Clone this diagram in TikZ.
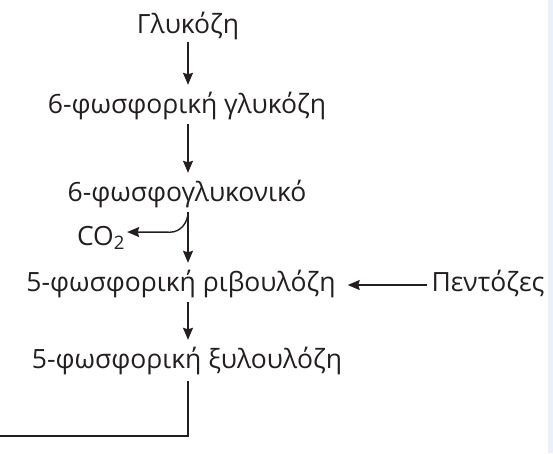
\documentclass[tikz,border=0pt]{standalone}
\usepackage{fontspec}
\setmainfont{Open Sans}
\usetikzlibrary{arrows.meta}
\definecolor{ink}{HTML}{231F20}
\definecolor{stripblue}{HTML}{EAF1F9}
\tikzset{
  x=1pt, y=-1pt,
  label/.style={inner sep=0pt, anchor=base, text height=19pt, text depth=7pt, font=\fontsize{26.5}{30}\selectfont, text=ink},
  flow/.style={draw=ink, line width=1.4pt, -{Stealth[length=12pt,width=10pt,inset=1.5pt]}},
  plain/.style={draw=ink, line width=1.4pt}
}
\begin{document}
\begin{tikzpicture}
  \useasboundingbox (0,0) rectangle (553,453);
  \fill[stripblue] (548,0) rectangle (553,453);

  % vertical spine of the pathway
  \coordinate (sp) at (188,0);
  \coordinate (edge) at (0,436);

  \node[label] (glc)  at (188,33)  {Γλυκόζη};
  \node[label] (g6p)  at (187,113) {6-φωσφορική γλυκόζη};
  \node[label] (pgl)  at (187,201) {6-φωσφογλυκονικό};
  \node[label] (co2)  at (101,245) {CO\textsubscript{2}};
  \node[label] (ru5p) at (181,291) {5-φωσφορική ριβουλόζη};
  \node[label] (pent) at (488,291) {Πεντόζες};
  \node[label] (xu5p) at (187,368) {5-φωσφορική ξυλουλόζη};

  \draw[flow] ([yshift=-2pt]glc.south -| sp) -- ([yshift=9pt]g6p.north -| sp);
  \draw[flow] ([yshift=-4pt]g6p.south -| sp) -- ([yshift=9pt]pgl.north -| sp);
  \draw[flow] ([yshift=-4pt]pgl.south -| sp) -- ([yshift=9pt]ru5p.north -| sp);
  \draw[flow] ([yshift=-4pt]pgl.south -| sp) to[out=-90,in=0] ++(-18,20) -- ([xshift=2pt]co2.east |- 0,232);
  \draw[flow] ([yshift=-4pt]ru5p.south -| sp) -- ([yshift=9pt]xu5p.north -| sp);
  \draw[flow] ([xshift=-4pt]pent.west |- 0,285) -- ([xshift=12pt]ru5p.east |- 0,285);
  \draw[plain] ([yshift=-6pt]xu5p.south -| sp) |- (edge);
\end{tikzpicture}
\end{document}
